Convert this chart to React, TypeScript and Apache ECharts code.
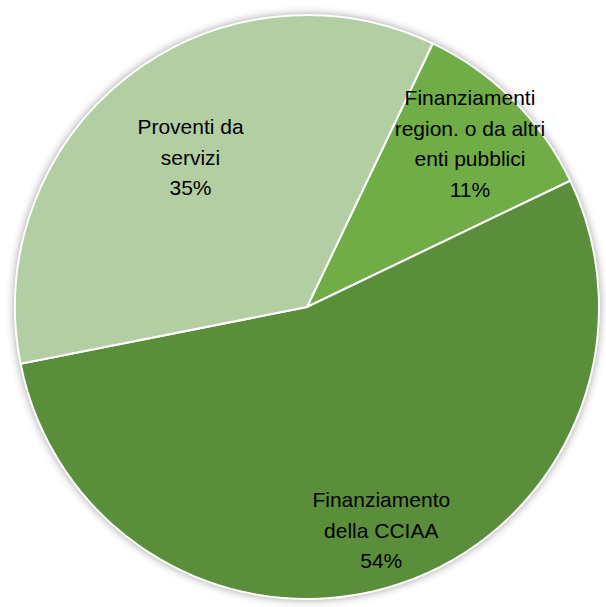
import React, { useEffect, useRef } from "react";
import * as echarts from "echarts";

const categories = [
  "Finanziamenti\nregion. o da altri\nenti pubblici",
  "Finanziamento\ndella CCIAA",
  "Proventi da\nservizi",
];
const values = [10.8, 54.0, 35.2];
const colors = ["#70AD47", "#5A8E3A", "#B3CEA3"];

// label radial placement (fraction of radius) per slice
const labelRadius = [0.79, 0.805, 0.65];

const CX = 307;
const CY = 307;
const R = 292;
const START = 64.5; // echarts startAngle (deg, counter-clockwise from east)
const FONT = "'Liberation Sans', Arial, sans-serif";

export default function App() {
  const ref = useRef<HTMLDivElement>(null);
  useEffect(() => {
    if (!ref.current) return;
    const chart = echarts.init(ref.current, undefined, { renderer: "svg" });
    const total = values.reduce((a, b) => a + b, 0);
    const mids: number[] = [];
    let acc = 0;
    for (const v of values) {
      mids.push(90 - START + ((acc + v / 2) / total) * 360);
      acc += v;
    }
    chart.setOption({
      animation: false,
      series: [
        {
          type: "pie",
          center: [CX, CY],
          radius: [0, R],
          silent: true,
          label: { show: false },
          labelLine: { show: false },
          itemStyle: {
            color: "#ffffff",
            shadowBlur: 10,
            shadowColor: "rgba(0,0,0,0.45)",
          },
          data: [{ value: 1, name: "" }],
          z: 1,
        },
        {
          type: "pie",
          center: [CX, CY],
          radius: [0, R],
          startAngle: START,
          clockwise: true,
          avoidLabelOverlap: false,
          silent: true,
          z: 2,
          itemStyle: { borderColor: "#ffffff", borderWidth: 2 },
          label: {
            show: true,
            position: "inside",
            color: "#000000",
            fontFamily: FONT,
            fontSize: 21,
            lineHeight: 30.5,
            align: "center",
            formatter: (p: any) => `${p.name}\n${Math.round(p.percent)}%`,
          },
          labelLine: { show: false },
          labelLayout: (p: any) => {
            const i = p.dataIndex;
            const a = (mids[i] * Math.PI) / 180;
            const r = labelRadius[i] * R;
            return {
              x: CX + r * Math.sin(a),
              y: CY - r * Math.cos(a),
              align: "center",
              verticalAlign: "middle",
            };
          },
          data: categories.map((name, i) => ({
            name,
            value: values[i],
            itemStyle: { color: colors[i] },
          })),
        },
      ],
    });
    return () => chart.dispose();
  }, []);
  return (
    <div
      ref={ref}
      style={{ position: "fixed", left: 0, top: 0, width: 606, height: 607, background: "#ffffff" }}
    />
  );
}
